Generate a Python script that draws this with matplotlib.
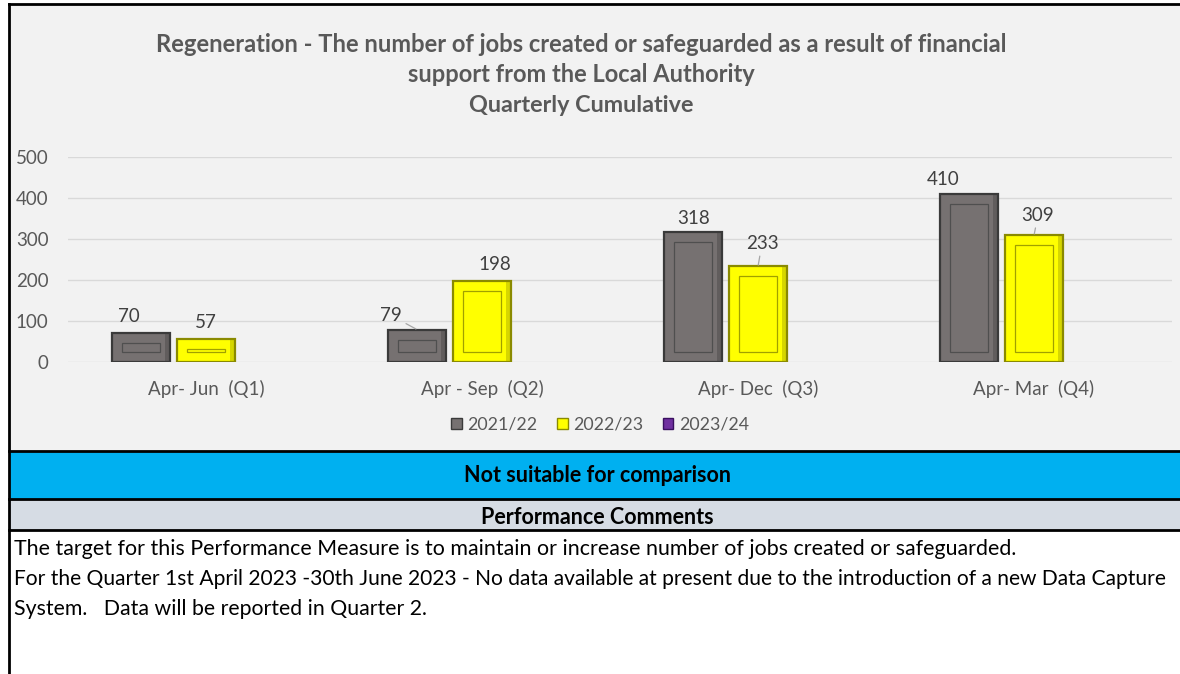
import matplotlib
matplotlib.use('Agg')
import matplotlib.pyplot as plt
import numpy as np
from matplotlib.patches import Rectangle, Patch
from matplotlib.lines import Line2D

# ---------------- data ----------------
categories = ["Apr- Jun  (Q1)", "Apr - Sep  (Q2)", "Apr- Dec  (Q3)", "Apr- Mar  (Q4)"]
series_names = ["2021/22", "2022/23", "2023/24"]
values_2021_22 = [70, 79, 318, 410]
values_2022_23 = [57, 198, 233, 309]
values_2023_24 = [np.nan, np.nan, np.nan, np.nan]
yticks = [0, 100, 200, 300, 400, 500]

title_lines = ["Regeneration - The number of jobs created or safeguarded as a result of financial",
               "support from the Local Authority",
               "Quarterly Cumulative"]
status_text = "Not suitable for comparison"
comments_header = "Performance Comments"
comment_lines = ["The target for this Performance Measure is to maintain or increase number of jobs created or safeguarded.",
                 "For the Quarter 1st April 2023 -30th June 2023 - No data available at present due to the introduction of a new Data Capture",
                 "System.   Data will be reported in Quarter 2."]

# ---------------- style ----------------
FONT = ['Lato', 'DejaVu Sans']
plt.rcParams['font.family'] = FONT
W, H = 1180, 674
fig = plt.figure(figsize=(W / 100, H / 100), dpi=100)
fig.patch.set_facecolor('white')
renderer = fig.canvas.get_renderer()


def fx(px):
    return px / W


def fy(py):
    return 1 - py / H


def band(y0, y1, color):
    fig.patches.append(Rectangle((fx(9), fy(y1)), fx(W - 9), (y1 - y0) / H,
                                 transform=fig.transFigure, facecolor=color,
                                 edgecolor='none', zorder=-5))


def hline(py, lw=2):
    fig.add_artist(Line2D([fx(9), 1], [fy(py), fy(py)], transform=fig.transFigure,
                          color='black', lw=lw, zorder=5))


band(4, 451, '#F2F2F2')
band(451, 499, '#00B0F0')
band(499, 530, '#D6DCE4')
hline(4)
hline(451)
hline(499)
hline(530)
fig.add_artist(Line2D([fx(9), fx(9)], [fy(4), 0], transform=fig.transFigure,
                      color='black', lw=2, zorder=5))


def fit(t, target):
    w = t.get_window_extent(renderer).width
    t.set_fontsize(t.get_fontsize() * target / w)


# title
title_y = [44, 74, 105]
title_w = [856, 350, 227]
for line, py, tw in zip(title_lines, title_y, title_w):
    t = fig.text(fx(581), fy(py), line, ha='center', va='center', fontsize=14,
                 fontweight='bold', color='#595959')
    fit(t, tw)

# ---------------- axes ----------------
ax = fig.add_axes([fx(68), fy(362), fx(1172 - 68), (362 - 157) / H])
ax.set_facecolor('none')
ax.set_zorder(2)
x = np.arange(len(categories))
slot = 0.235
bw = 0.21
ppx = 276.0             # pixels per category unit
ppy = 205.0 / 500.0     # pixels per value unit
ins_x = 10 / ppx
ins_y = 10 / ppy

colors = {'2021/22': ('#767171', '#3A3A3A', '#4F4F4F'),
          '2022/23': ('#FFFF00', '#8A8A00', '#A0A000'),
          '2023/24': ('#7030A0', '#3A1060', '#3A1060')}
series = [values_2021_22, values_2022_23, values_2023_24]
offsets = [-slot, 0, slot]

for name, vals, off in zip(series_names, series, offsets):
    face, edge, inner = colors[name]
    v = np.array(vals, dtype=float)
    ax.bar(x + off, v, width=bw, color=face, edgecolor=edge, linewidth=1.6, zorder=3)
    # inner bevel panel
    iv = v - 2 * ins_y
    ax.bar(x + off, np.where(iv > 0, iv, np.nan), bottom=ins_y, width=bw - 2 * ins_x,
           color=face, edgecolor=inner, linewidth=0.9, zorder=4)
    # shadow on right side of the bevel
    ax.bar(x + off + bw / 2 - ins_x / 4, v, width=ins_x / 2, color=edge, alpha=0.35,
           linewidth=0, zorder=3.5)

# data labels (offsets in pixels: dx, dy)
label_off = {
    '2021/22': [(-12, 17), (-26, 14), (0, 13), (-26, 14)],
    '2022/23': [(0, 16), (13, 16), (4, 23), (4, 20)],
}
leaders = {('2021/22', 1), ('2022/23', 2), ('2022/23', 3)}
for name, vals, off in zip(series_names[:2], series[:2], offsets[:2]):
    for i, v in enumerate(vals):
        dx, dy = label_off[name][i]
        kw = {}
        if (name, i) in leaders:
            kw['arrowprops'] = dict(arrowstyle='-', color='#A6A6A6', lw=0.9,
                                    shrinkA=1, shrinkB=1)
        ax.annotate(f"{v}", xy=(x[i] + off, v), xytext=(dx * 0.72, dy * 0.72),
                    textcoords='offset points', ha='center', va='center',
                    fontsize=13.5, color='#404040', zorder=6, **kw)

ax.set_xlim(-0.5, len(categories) - 0.5)
ax.set_ylim(0, 500)
ax.set_yticks(yticks)
ax.set_xticks(x, categories)
ax.tick_params(axis='both', length=0, colors='#595959', labelsize=13.5)
ax.tick_params(axis='y', pad=14)
ax.tick_params(axis='x', pad=13)
ax.grid(axis='y', color='#D9D9D9', lw=1, zorder=0)
ax.set_axisbelow(True)
for s in ax.spines.values():
    s.set_visible(False)

# legend
handles = [Patch(facecolor=colors[n][0], edgecolor=colors[n][1], linewidth=1) for n in series_names]
fig.legend(handles, series_names, loc='center', bbox_to_anchor=(fx(600), fy(425)), ncol=3,
           frameon=False, fontsize=12.8, labelcolor='#595959', handlelength=0.6,
           handleheight=0.6, handletextpad=0.3, columnspacing=1.1)

# bottom panels
t = fig.text(fx(597), fy(476), status_text, ha='center', va='center', fontweight='bold',
             color='black', fontsize=13)
fit(t, 268)
t = fig.text(fx(597), fy(517), comments_header, ha='center', va='center', fontweight='bold',
             color='black', fontsize=12)
fit(t, 232)
cw = [994, 1151, 409]
for line, py, w in zip(comment_lines, [549, 579, 609], cw):
    t = fig.text(fx(14), fy(py), line, ha='left', va='center', color='black', fontsize=12)
    fit(t, w)

fig.savefig('out.png', dpi=100, facecolor='white')
